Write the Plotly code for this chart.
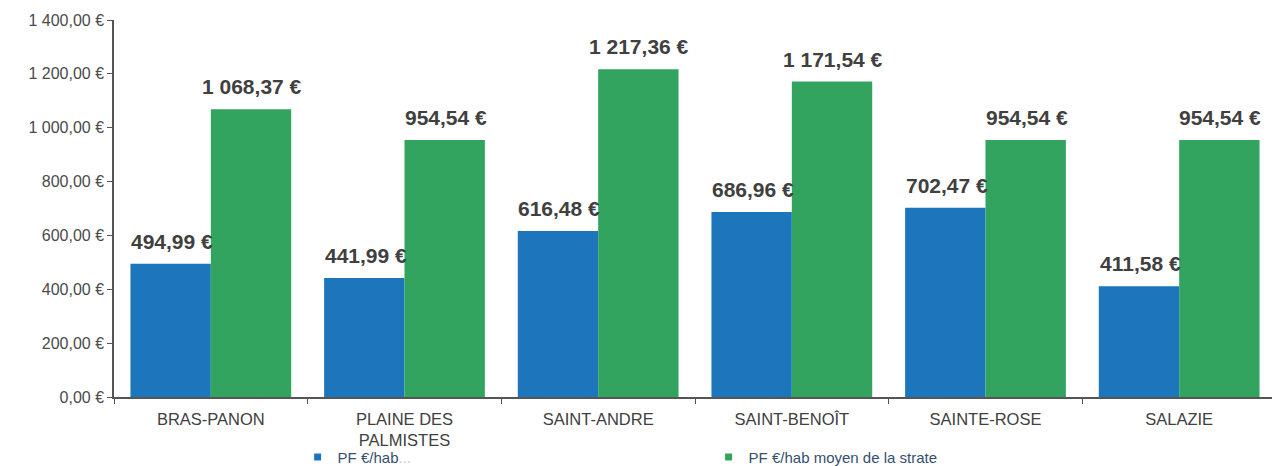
import plotly.graph_objects as go

categories = ["BRAS-PANON", "PLAINE DES<br>PALMISTES", "SAINT-ANDRE", "SAINT-BENOÎT", "SAINTE-ROSE", "SALAZIE"]
pf_hab = [494.99, 441.99, 616.48, 686.96, 702.47, 411.58]
pf_strate = [1068.37, 954.54, 1217.36, 1171.54, 954.54, 954.54]
series_names = ["PF €/hab<span style='color:#c8c8c8'>...</span>", "PF €/hab moyen de la strate"]
y_tickvals = [0, 200, 400, 600, 800, 1000, 1200, 1400]
y_ticktext = ["0,00 €", "200,00 €", "400,00 €", "600,00 €", "800,00 €", "1 000,00 €", "1 200,00 €", "1 400,00 €"]

BLUE = "#1d76bb"
GREEN = "#32a45f"
TXT = "#404040"


def fmt(v):
    s = f"{v:,.2f}".replace(",", " ").replace(".", ",")
    return s + " €"


fig = go.Figure()
fig.add_trace(go.Bar(x=categories, y=pf_hab, name=series_names[0], marker_color=BLUE,
                     marker_line_width=0, showlegend=False))
fig.add_trace(go.Bar(x=categories, y=pf_strate, name=series_names[1], marker_color=GREEN,
                     marker_line_width=0, showlegend=False))
# legend entries with small square markers
fig.add_trace(go.Scatter(x=[None], y=[None], mode="markers", name=series_names[0],
                         marker=dict(symbol="square", size=7, color=BLUE)))
fig.add_trace(go.Scatter(x=[None], y=[None], mode="markers", name=series_names[1],
                         marker=dict(symbol="square", size=7, color=GREEN)))

# value labels
for i, c in enumerate(categories):
    for vals, xs in ((pf_hab, -40), (pf_strate, 40)):
        fig.add_annotation(x=c, y=vals[i], text=fmt(vals[i]), showarrow=False,
                           xshift=xs + 1, yshift=9, yanchor="bottom",
                           font=dict(family="Liberation Sans, Arial", size=21, color=TXT, weight="bold"))

# the page body adds an 8px offset, so the figure is 8px smaller on each axis
fig.update_layout(
    width=1272, height=458,
    margin=dict(l=106, r=4, t=12, b=69, autoexpand=False),
    paper_bgcolor="white", plot_bgcolor="white",
    barmode="group", bargap=0.17, bargroupgap=0,
    font=dict(family="Liberation Sans, Arial", color=TXT),
    showlegend=True,
    legend=dict(orientation="h", x=0.158, y=-0.16, xanchor="left", yanchor="middle",
                entrywidth=366, entrywidthmode="pixels", bgcolor="rgba(0,0,0,0)",
                font=dict(size=15, color="#34506e"), itemwidth=30, tracegroupgap=0),
)
fig.update_xaxes(showline=True, linecolor="#555555", linewidth=1.5, ticks="outside",
                 tickson="boundaries", ticklen=5, tickcolor="#555555", automargin=False,
                 ticklabelstandoff=6,
                 tickfont=dict(size=16.5, color=TXT), showgrid=False)
fig.update_yaxes(range=[0, 1400], tickvals=y_tickvals, ticktext=y_ticktext, automargin=False,
                 showline=True, linecolor="#555555", linewidth=1.5, ticks="outside",
                 ticklen=5, tickcolor="#555555", showgrid=False, zeroline=False,
                 tickfont=dict(size=16, color="#4a4a4a"))

fig.write_html("out.html")
